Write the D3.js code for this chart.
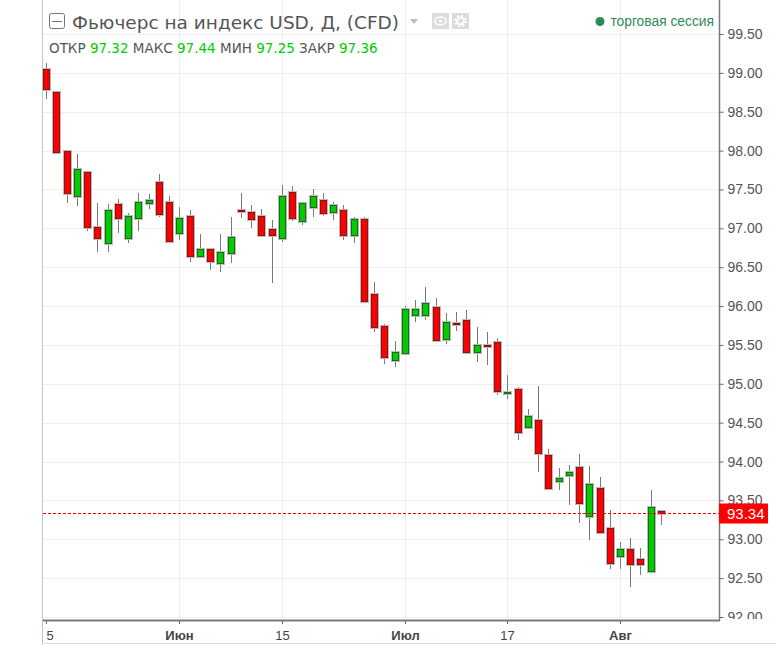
<!DOCTYPE html>
<html>
<head>
<meta charset="utf-8">
<title>Фьючерс на индекс USD</title>
<script src="https://cdnjs.cloudflare.com/ajax/libs/d3/7.8.5/d3.min.js"></script>
<style>
body { margin: 0; background: #fff; }
text { font-family: "Liberation Sans", Arial, sans-serif; }
</style>
</head>
<body>
<script>
// trading days (daily candles)
var dates = [
  "2017-05-15","2017-05-16","2017-05-17","2017-05-18","2017-05-19",
  "2017-05-22","2017-05-23","2017-05-24","2017-05-25","2017-05-26",
  "2017-05-29","2017-05-30","2017-05-31",
  "2017-06-01","2017-06-02","2017-06-05","2017-06-06","2017-06-07",
  "2017-06-08","2017-06-09","2017-06-12","2017-06-13","2017-06-14",
  "2017-06-15","2017-06-16","2017-06-19","2017-06-20","2017-06-21",
  "2017-06-22","2017-06-23","2017-06-26","2017-06-27","2017-06-28",
  "2017-06-29","2017-06-30",
  "2017-07-03","2017-07-04","2017-07-05","2017-07-06","2017-07-07",
  "2017-07-10","2017-07-11","2017-07-12","2017-07-13","2017-07-14",
  "2017-07-17","2017-07-18","2017-07-19","2017-07-20","2017-07-21",
  "2017-07-24","2017-07-25","2017-07-26","2017-07-27","2017-07-28",
  "2017-07-31",
  "2017-08-01","2017-08-02","2017-08-03","2017-08-04","2017-08-07"
];

// ohlc values
var open = [
  99.05, 98.76, 97.99, 97.41, 97.72, 97.02, 96.81, 97.31, 96.88, 97.13,
  97.32, 97.60, 97.34, 96.94, 97.16, 96.64, 96.73, 96.55, 96.68, 97.24,
  97.21, 97.16, 96.99, 96.88, 97.47, 97.09, 97.27, 97.37, 97.21, 97.24,
  96.92, 97.12, 96.15, 95.75, 95.30, 95.39, 95.88, 95.89, 95.99, 95.57,
  95.78, 95.82, 95.41, 95.50, 95.54, 94.88, 94.93, 94.44, 94.54, 94.09,
  93.75, 93.83, 93.93, 93.30, 93.66, 93.14, 92.79, 92.88, 92.75, 92.59,
  93.36
];
var high = [
  99.13, 98.77, 98.01, 97.96, 97.73, 97.33, 97.31, 97.38, 97.20, 97.46,
  97.44, 97.70, 97.42, 97.27, 97.24, 96.93, 96.74, 96.93, 97.14, 97.46,
  97.30, 97.25, 97.11, 97.56, 97.54, 97.33, 97.51, 97.46, 97.34, 97.30,
  97.15, 97.15, 96.31, 95.77, 95.55, 96.00, 96.08, 96.24, 96.11, 95.91,
  95.93, 95.95, 95.73, 95.67, 95.59, 95.11, 94.96, 94.68, 94.97, 94.16,
  93.92, 93.95, 94.10, 93.94, 93.80, 93.38, 92.96, 93.02, 92.89, 93.63,
  93.37
];
var low = [
  98.67, 97.97, 97.33, 97.29, 96.96, 96.69, 96.69, 96.94, 96.81, 96.97,
  97.25, 97.14, 96.81, 96.85, 96.57, 96.63, 96.46, 96.44, 96.56, 97.13,
  97.01, 96.91, 96.30, 96.83, 97.09, 97.04, 97.14, 97.16, 97.11, 96.85,
  96.81, 96.05, 95.66, 95.26, 95.21, 95.38, 95.80, 95.82, 95.55, 95.51,
  95.68, 95.40, 95.28, 95.24, 94.86, 94.80, 94.28, 94.43, 93.87, 93.65,
  93.63, 93.44, 93.21, 92.99, 93.08, 92.62, 92.62, 92.38, 92.54, 92.57,
  93.18
];
var close = [
  98.79, 97.98, 97.45, 97.76, 97.02, 96.87, 97.24, 97.13, 97.16, 97.34,
  97.36, 97.19, 96.84, 97.13, 96.65, 96.73, 96.58, 96.70, 96.89, 97.24,
  97.12, 96.92, 96.91, 97.42, 97.13, 97.32, 97.41, 97.20, 97.30, 96.92,
  97.12, 96.07, 95.73, 95.34, 95.41, 95.96, 95.96, 96.04, 95.56, 95.79,
  95.78, 95.41, 95.50, 95.50, 94.91, 94.89, 94.38, 94.58, 94.11, 93.66,
  93.79, 93.87, 93.47, 93.71, 93.09, 92.69, 92.88, 92.68, 92.68, 93.41,
  93.34
];

// axis ticks
var yTicks = [92, 92.5, 93, 93.5, 94, 94.5, 95, 95.5, 96, 96.5, 97, 97.5, 98, 98.5, 99, 99.5];
var tickDates = ["2017-05-15", "2017-06-01", "2017-06-15", "2017-07-03", "2017-07-17", "2017-08-01"];
var tickLabels = ["15", "Июн", "15", "Июл", "17", "Авг"];
var tickIsMonth = [false, true, false, true, false, true];

// header texts
var title = "Фьючерс на индекс USD, Д, (CFD)";
var headerLabels = ["ОТКР", "МАКС", "МИН", "ЗАКР"];
var headerValues = ["97.32", "97.44", "97.25", "97.36"];
var sessionText = "торговая сессия";
var lastPrice = 93.34;

// dimensions
var canvasX = 776;
var canvasY = 645;
var left = 43;
var right = 719;
var bottom = 620;

var svg = d3.select("body")
            .append("svg")
            .attr("width", canvasX)
            .attr("height", canvasY);

// scales
var scaleX = d3.scaleLinear()
               .domain([-0.3, 65.66])
               .range([left, right]);

var scaleY = d3.scaleLinear()
               .domain([92, 99.5])
               .range([617, 34]);

var tickIdx = tickDates.map(function(d) { return dates.indexOf(d); });

function px(v) { return Math.round(v) + 0.5; }

// grid
svg.append("g")
   .selectAll("line")
   .data(yTicks)
   .enter()
   .append("line")
   .attr("x1", left)
   .attr("x2", right)
   .attr("y1", function(d) { return px(scaleY(d)); })
   .attr("y2", function(d) { return px(scaleY(d)); })
   .attr("stroke", "#efefef");

svg.append("g")
   .selectAll("line")
   .data(tickIdx.slice(1))
   .enter()
   .append("line")
   .attr("x1", function(d) { return px(scaleX(d)); })
   .attr("x2", function(d) { return px(scaleX(d)); })
   .attr("y1", 0)
   .attr("y2", bottom)
   .attr("stroke", "#efefef");

// borders
svg.append("line").attr("x1", 42.5).attr("x2", 42.5).attr("y1", 0).attr("y2", canvasY)
   .attr("stroke", "#c4c4c4");
svg.append("line").attr("x1", 42).attr("x2", canvasX).attr("y1", 643.5).attr("y2", 643.5)
   .attr("stroke", "#e2e2e2");

// candles
var candles = dates.map(function(d, i) {
    return {i: i, o: open[i], h: high[i], l: low[i], c: close[i]};
});

var g = svg.append("g");

g.selectAll(".wick")
 .data(candles)
 .enter()
 .append("line")
 .attr("class", "wick")
 .attr("x1", function(d) { return px(scaleX(d.i)); })
 .attr("x2", function(d) { return px(scaleX(d.i)); })
 .attr("y1", function(d) { return Math.round(scaleY(d.h)); })
 .attr("y2", function(d) { return Math.round(scaleY(d.l)); })
 .attr("stroke", "#7a7a7a");

function bodyTop(d) { return px(scaleY(Math.max(d.o, d.c))); }
function bodyH(d) {
    return Math.max(px(scaleY(Math.min(d.o, d.c))) - bodyTop(d), 1);
}
function fillColor(d) {
    if (d.c > d.o) return "#00cc00";
    if (d.c < d.o) return "#ff0000";
    return "#8b1a1a";
}
function strokeColor(d) {
    if (d.c > d.o) return "#2b5e2b";
    if (d.c < d.o) return "#6e1f1f";
    return "#7a1616";
}
function haloColor(d) {
    return d.c > d.o ? "#a9c7a9" : "#d9aeae";
}

// soft outline around bodies
g.selectAll(".halo")
 .data(candles)
 .enter()
 .append("rect")
 .attr("class", "halo")
 .attr("x", function(d) { return px(scaleX(d.i)) - 4.5; })
 .attr("y", function(d) { return bodyTop(d) - 1.5; })
 .attr("width", 9)
 .attr("height", function(d) { return bodyH(d) + 3; })
 .attr("fill", haloColor);

g.selectAll(".body")
 .data(candles)
 .enter()
 .append("rect")
 .attr("class", "body")
 .attr("x", function(d) { return px(scaleX(d.i)) - 3; })
 .attr("y", bodyTop)
 .attr("width", 6)
 .attr("height", bodyH)
 .attr("fill", fillColor)
 .attr("stroke", strokeColor);

// last price line
var yLast = px(scaleY(lastPrice));
svg.append("line")
   .attr("x1", left)
   .attr("x2", right)
   .attr("y1", yLast)
   .attr("y2", yLast)
   .attr("stroke", "#ff0000")
   .attr("stroke-dasharray", "3,2");

// y axis (clip in the group's own coordinates)
svg.append("clipPath").attr("id", "yclip")
   .append("rect").attr("x", -1).attr("y", 0).attr("width", 60).attr("height", bottom - 1);

var yAxis = d3.axisRight(scaleY)
              .tickValues(yTicks)
              .tickFormat(d3.format(".2f"))
              .tickSize(4)
              .tickPadding(4);

var yg = svg.append("g")
   .attr("class", "axis")
   .attr("transform", "translate(" + (right + 0.5) + ",0)")
   .attr("clip-path", "url(#yclip)")
   .call(yAxis);
yg.select(".domain").remove();
yg.selectAll("line").attr("stroke", "#666");
yg.selectAll("text")
  .attr("fill", "#555")
  .style("font-size", "14px")
  .style("font-family", "'Liberation Sans', Arial, sans-serif");

svg.append("line").attr("x1", right + 0.5).attr("x2", right + 0.5).attr("y1", 0).attr("y2", bottom + 1)
   .attr("stroke", "#7a7a7a").attr("stroke-width", 1.5);

// last price label
svg.append("rect")
   .attr("x", right)
   .attr("y", yLast - 10)
   .attr("width", 49)
   .attr("height", 20)
   .attr("fill", "#ff0000");
svg.append("text")
   .attr("x", right + 8)
   .attr("y", yLast + 5)
   .attr("fill", "#fff")
   .style("font-size", "15px")
   .text(d3.format(".2f")(lastPrice));

// x axis
svg.append("clipPath").attr("id", "xclip")
   .append("rect").attr("x", 46).attr("y", 0).attr("width", canvasX).attr("height", 30);

var xAxis = d3.axisBottom(scaleX)
              .tickValues(tickIdx)
              .tickFormat(function(d, i) { return tickLabels[i]; })
              .tickSize(4)
              .tickPadding(7);

var xg = svg.append("g")
   .attr("class", "axis")
   .attr("transform", "translate(0," + bottom + ")")
   .attr("clip-path", "url(#xclip)")
   .call(xAxis);
xg.select(".domain").remove();
xg.selectAll(".tick").attr("transform", function(d) {
    return "translate(" + px(scaleX(d)) + ",0)";
});
xg.selectAll("line").attr("stroke", "#666");
xg.selectAll("text")
  .attr("fill", "#444")
  .style("font-size", "13px")
  .style("font-family", "'Liberation Sans', Arial, sans-serif")
  .style("font-weight", function(d, i) { return tickIsMonth[i] ? "bold" : "normal"; });

svg.append("line").attr("x1", left).attr("x2", right + 1).attr("y1", bottom + 0.5).attr("y2", bottom + 0.5)
   .attr("stroke", "#7a7a7a").attr("stroke-width", 2);

// header: collapse icon and title
svg.append("rect")
   .attr("x", 49.5).attr("y", 13.5).attr("width", 15).attr("height", 15).attr("rx", 2)
   .attr("fill", "#fff").attr("stroke", "#777");
svg.append("line")
   .attr("x1", 52).attr("x2", 62).attr("y1", 21.5).attr("y2", 21.5)
   .attr("stroke", "#777");

svg.append("text")
   .attr("x", 72)
   .attr("y", 29)
   .attr("fill", "#555")
   .style("font-family", "'DejaVu Sans', Verdana, sans-serif")
   .style("font-size", "18.5px")
   .text(title);

// dropdown arrow, eye and gear buttons
svg.append("path").attr("d", "M410,19 L418,19 L414,24 Z").attr("fill", "#bdbdbd");
svg.append("rect").attr("x", 432).attr("y", 13).attr("width", 17).attr("height", 16).attr("fill", "#dcdcdc");
svg.append("ellipse").attr("cx", 440.5).attr("cy", 21).attr("rx", 5.5).attr("ry", 4)
   .attr("fill", "none").attr("stroke", "#fff").attr("stroke-width", 1.6);
svg.append("circle").attr("cx", 440.5).attr("cy", 21).attr("r", 1.6).attr("fill", "#fff");
svg.append("rect").attr("x", 452).attr("y", 13).attr("width", 17).attr("height", 16).attr("fill", "#dcdcdc");
svg.append("circle").attr("cx", 460.5).attr("cy", 21).attr("r", 5)
   .attr("fill", "none").attr("stroke", "#fff").attr("stroke-width", 2.4)
   .attr("stroke-dasharray", "2,1.9");
svg.append("circle").attr("cx", 460.5).attr("cy", 21).attr("r", 3.2)
   .attr("fill", "none").attr("stroke", "#fff").attr("stroke-width", 1.6);

// header: ohlc values
var ohlc = svg.append("text")
   .attr("x", 49)
   .attr("y", 53)
   .style("font-family", "'DejaVu Sans', Verdana, sans-serif")
   .style("font-size", "13.5px");
headerLabels.forEach(function(label, i) {
    ohlc.append("tspan").attr("fill", "#555").text((i > 0 ? " " : "") + label + " ");
    ohlc.append("tspan").attr("fill", "#00cc00").text(headerValues[i]);
});

// session legend
svg.append("circle").attr("cx", 600).attr("cy", 21.5).attr("r", 4.5).attr("fill", "#2e8b57");
svg.append("text")
   .attr("x", 714)
   .attr("y", 26)
   .attr("text-anchor", "end")
   .attr("fill", "#2e8b57")
   .style("font-size", "13.8px")
   .text(sessionText);
</script>
</body>
</html>
